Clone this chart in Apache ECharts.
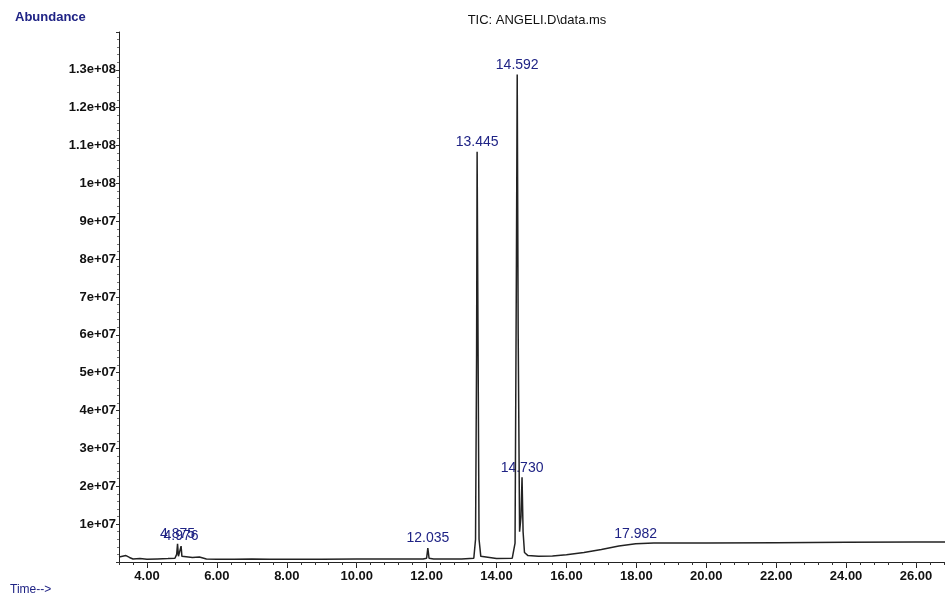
<!DOCTYPE html>
<html>
<head>
<meta charset="utf-8">
<script src="https://cdn.jsdelivr.net/npm/echarts@6.0.0/dist/echarts.min.js"></script>
<style>
html,body{margin:0;padding:0;background:#fff;}
#chart{width:945px;height:606px;}
</style>
</head>
<body>
<div id="chart"></div>
<script>
// Retention time (min)
var times = [3.20,3.30,3.40,3.50,3.60,3.80,4.00,4.30,4.60,4.80,4.85,4.875,4.90,4.95,4.976,5.00,5.05,5.30,5.50,5.70,6.00,6.50,7.00,7.50,8.00,9.00,10.00,11.00,11.90,12.00,12.035,12.07,12.20,13.00,13.35,13.40,13.43,13.445,13.47,13.50,13.55,13.60,14.00,14.45,14.53,14.57,14.592,14.62,14.66,14.70,14.730,14.76,14.80,14.90,15.20,15.60,16.00,16.50,17.00,17.50,17.982,18.50,19.00,20.00,22.00,24.00,26.00,26.83];
// Total ion current abundance
var abundance = [1300000,1500000,1700000,1200000,800000,900000,700000,800000,900000,1000000,2000000,4800000,1500000,2000000,4200000,1500000,1000000,1200000,1300000,800000,700000,700000,800000,700000,700000,700000,800000,800000,800000,1000000,3700000,1000000,800000,800000,1000000,6000000,55000000,108400000,60000000,6000000,1500000,1000000,900000,1000000,5000000,80000000,128800000,60000000,8000000,12000000,22400000,8000000,2500000,1700000,1500000,1600000,1900000,2500000,3300000,4200000,4800000,5000000,5000000,5000000,5100000,5200000,5300000,5300000];
// Labelled peaks
var peakTimes = [4.875,4.976,12.035,13.445,14.592,14.730,17.982];
var peakValues = [4800000,4200000,3700000,108400000,128800000,22400000,4800000];
var peakLabels = ['4.875','4.976','12.035','13.445','14.592','14.730','17.982'];
// Axis ticks
var xTickValues = [4,6,8,10,12,14,16,18,20,22,24,26];
var xTickLabels = ['4.00','6.00','8.00','10.00','12.00','14.00','16.00','18.00','20.00','22.00','24.00','26.00'];
var xMinorTicks = [3.2,3.6,4.0,4.4,4.8,5.2,5.6,6.0,6.4,6.8,7.2,7.6,8.0,8.4,8.8,9.2,9.6,10.0,10.4,10.8,11.2,11.6,12.0,12.4,12.8,13.2,13.6,14.0,14.4,14.8,15.2,15.6,16.0,16.4,16.8,17.2,17.6,18.0,18.4,18.8,19.2,19.6,20.0,20.4,20.8,21.2,21.6,22.0,22.4,22.8,23.2,23.6,24.0,24.4,24.8,25.2,25.6,26.0,26.4,26.8];
var yTickLabels = ['','1e+07','2e+07','3e+07','4e+07','5e+07','6e+07','7e+07','8e+07','9e+07','1e+08','1.1e+08','1.2e+08','1.3e+08',''];

var lineData = times.map(function(t,i){return [t, abundance[i]];});
var peakData = peakTimes.map(function(t,i){return {value:[t, peakValues[i]], name: peakLabels[i]};});

var FONT = 'Liberation Sans, Arial, sans-serif';
var BLUE = '#1f2385';
var chart = echarts.init(document.getElementById('chart'), null, {renderer:'canvas'});
chart.setOption({
  animation:false,
  backgroundColor:'#ffffff',
  grid:{left:119, right:0, top:32, bottom:44, containLabel:false},
  xAxis:[{
    type:'value', min:3.2, max:26.83,
    axisLine:{show:true, onZero:false, lineStyle:{color:'#222', width:1}},
    axisTick:{show:true, inside:false, length:6, customValues:xTickValues, lineStyle:{color:'#222'}},
    axisLabel:{show:true, customValues:xTickValues, margin:8, color:'#111', fontFamily:FONT, fontSize:13, fontWeight:'bold',
      formatter:function(v){var i=xTickValues.indexOf(Math.round(v*100)/100); return i>=0?xTickLabels[i]:'';}},
    splitLine:{show:false}
  },{
    type:'value', min:3.2, max:26.83, position:'bottom',
    axisLine:{show:false},
    axisTick:{show:true, inside:false, length:3, customValues:xMinorTicks, lineStyle:{color:'#333'}},
    axisLabel:{show:false},
    splitLine:{show:false}
  }],
  yAxis:{
    type:'value', min:0, max:140000000, interval:10000000,
    axisLine:{show:true, lineStyle:{color:'#222', width:1}},
    axisTick:{show:true, length:3, lineStyle:{color:'#333'}},
    minorTick:{show:true, splitNumber:5, length:2, lineStyle:{color:'#777'}},
    axisLabel:{show:true, margin:3, color:'#111', fontFamily:FONT, fontSize:13, fontWeight:'bold',
      formatter:function(v){return yTickLabels[Math.round(v/10000000)] || '';}},
    splitLine:{show:false}
  },
  series:[{
    type:'line', xAxisIndex:0, data:lineData, showSymbol:false, symbol:'none',
    lineStyle:{color:'#222', width:1.5}, silent:true
  },{
    type:'scatter', xAxisIndex:0, data:peakData, symbolSize:1,
    itemStyle:{color:'rgba(0,0,0,0)', opacity:1},
    label:{show:true, position:'top', distance:2, color:BLUE, opacity:1, fontFamily:FONT, fontSize:14,
      formatter:function(p){return p.name;}}
  }],
  graphic:[
    {type:'text', left:15, top:11, style:{text:'Abundance', fill:BLUE, font:'bold 13px '+FONT}},
    {type:'text', left:10, top:584, style:{text:'Time-->', fill:BLUE, font:'12px '+FONT}},
    {type:'text', x:537, y:20, style:{text:'TIC: ANGELI.D\\data.ms', fill:'#111', font:'13px '+FONT, align:'center', verticalAlign:'middle'}}
  ]
});
</script>
</body>
</html>
